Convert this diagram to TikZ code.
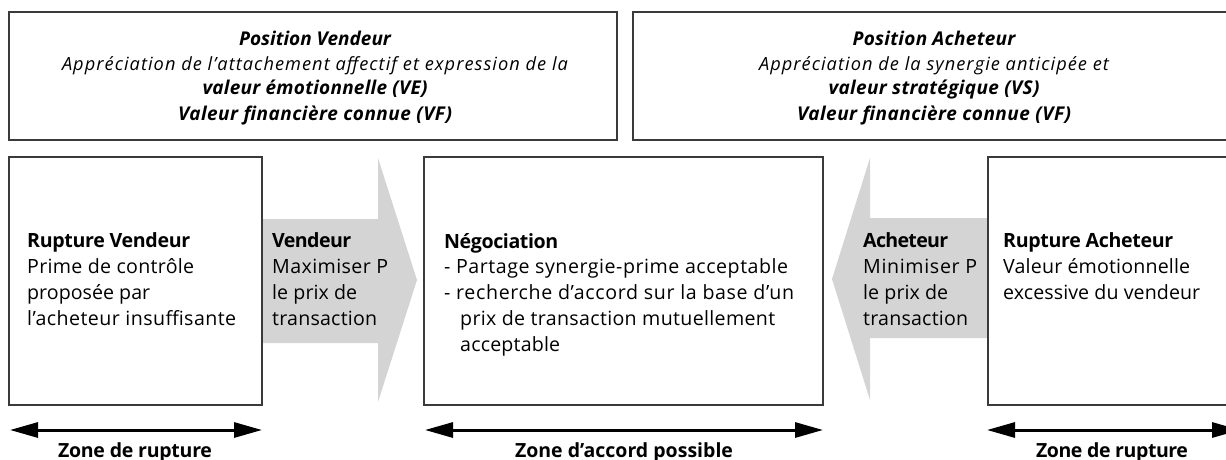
\documentclass[tikz,border=0pt]{standalone}
\usepackage{fontspec}
\setmainfont{Open Sans}
\usetikzlibrary{arrows.meta}
\definecolor{arrowgray}{HTML}{D4D4D4}
\definecolor{boxline}{HTML}{3A3A3A}
\makeatletter
% set #2 with a letter spacing that makes it #1 pt wide
\newcommand\fitto[2]{%
  \setbox0\hbox{#2}\dimen@=\wd0 \edef\fit@a{\strip@pt\dimen@}%
  \setbox2\hbox{\addfontfeature{LetterSpace=10}#2}\dimen@=\wd2 \edef\fit@b{\strip@pt\dimen@}%
  \pgfmathsetmacro\fit@ls{10*((#1)-\fit@a)/(\fit@b-\fit@a)}%
  \edef\fit@do{\noexpand\addfontfeature{LetterSpace=\fit@ls}}%
  \hbox{\fit@do #2}}
\makeatother
\newcommand\tb{\fontsize{19}{25}\selectfont\bfseries}
\begin{document}
\begin{tikzpicture}[x=1pt,y=-1pt,
  box/.style={draw=boxline,line width=1.3pt,fill=white,inner sep=0pt},
  toptext/.style={align=center,inner sep=0pt,anchor=base,font=\fontsize{18.2}{25}\selectfont\itshape},
  bodytext/.style={align=left,inner sep=0pt,anchor=base west,font=\fontsize{19.6}{25.7}\selectfont},
  zonetext/.style={inner sep=0pt,anchor=base,font=\fontsize{19.5}{24}\selectfont\bfseries},
  grayarrow/.style={fill=arrowgray,draw=none},
  dbl/.style={line width=3pt,{Triangle[length=28pt,width=15pt]}-{Triangle[length=28pt,width=15pt]}}
]
\useasboundingbox (0,0) rectangle (1226,460);
% top boxes
\draw[box] (9,12) rectangle (617,140);
\draw[box] (633,12) rectangle (1240,140);
\node[toptext] (pvt) at (315,120) {\fitto{152}{\tb Position Vendeur}\\
\fitto{506}{Appréciation de l’attachement affectif et expression de la}\\
\fitto{225}{\tb valeur émotionnelle (VE)}\\
\fitto{274}{\tb Valeur financière connue (VF)}};
\node[toptext] (pat) at (934,120) {\fitto{163}{\tb Position Acheteur}\\
\fitto{350}{Appréciation de la synergie anticipée et}\\
\fitto{211}{\tb valeur stratégique (VS)}\\
\fitto{274}{\tb Valeur financière connue (VF)}};
% gray arrows
\path[grayarrow] (262,219) -- (378,219) -- (378,158) -- (417,280) -- (378,402) -- (378,343) -- (262,343) -- cycle;
\path[grayarrow] (988,218) -- (870,218) -- (870,158) -- (832,279) -- (870,400) -- (870,338) -- (988,338) -- cycle;
% bottom boxes
\draw[box] (9,157) rectangle (262,405);
\draw[box] (424,157) rectangle (823,405);
\draw[box] (988,157) rectangle (1240,405);
% texts (anchored at the baseline of the last line)
\node[bodytext] (rv) at (27,325) {\fitto{163}{\bfseries Rupture Vendeur}\\\fitto{167}{Prime de contrôle}\\\fitto{123}{proposée par}\\\fitto{209}{l’acheteur insuffisante}};
\node[bodytext] (vd) at (272,325) {\fitto{79}{\bfseries Vendeur}\\\fitto{116}{Maximiser P}\\\fitto{85}{le prix de}\\\fitto{105}{transaction}};
\node[bodytext] (ng) at (444,351) {\fitto{114}{\bfseries Négociation}\\\fitto{344}{- Partage synergie-prime acceptable}\\\fitto{350}{- recherche d’accord sur la base d’un}\\\hspace*{16pt}\fitto{315}{prix de transaction mutuellement}\\\hspace*{16pt}\fitto{100}{acceptable}};
\node[bodytext] (ac) at (863,325) {\fitto{85}{\bfseries Acheteur}\\\fitto{114}{Minimiser P}\\\fitto{85}{le prix de}\\\fitto{105}{transaction}};
\node[bodytext] (ra) at (1003,299) {\fitto{170}{\bfseries Rupture Acheteur}\\\fitto{187}{Valeur émotionnelle}\\\fitto{197}{excessive du vendeur}};
% zone arrows
\coordinate (z1a) at (10,430); \coordinate (z1b) at (262,430);
\coordinate (z2a) at (425,430); \coordinate (z2b) at (823,430);
\coordinate (z3a) at (987,430); \coordinate (z3b) at (1240,430);
\draw[dbl] (z1a) -- (z1b);
\draw[dbl] (z2a) -- (z2b);
\draw[dbl] (z3a) -- (z3b);
\node[zonetext] (zl) at (135,457) {\fitto{154}{Zone de rupture}};
\node[zonetext] (zm) at (624,457) {\fitto{218}{Zone d’accord possible}};
\node[zonetext] (zr) at (1112,457) {\fitto{152}{Zone de rupture}};
\end{tikzpicture}
\end{document}
